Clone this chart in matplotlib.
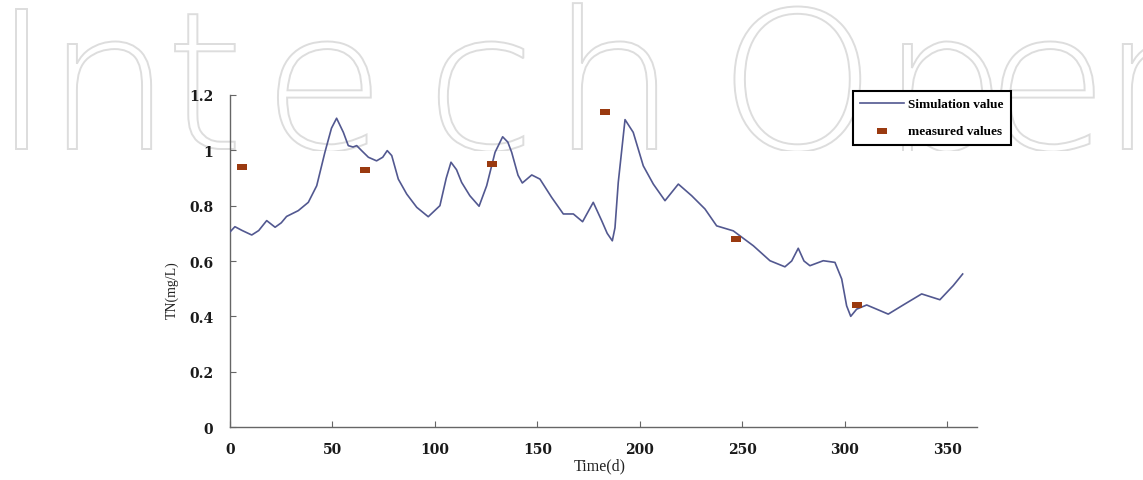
import numpy as np
import matplotlib
matplotlib.use('Agg')
import matplotlib.pyplot as plt
from matplotlib.textpath import TextPath
from matplotlib.font_manager import FontProperties
from matplotlib.patches import PathPatch
from matplotlib.transforms import Affine2D

# simulated TN over the year (day, mg/L)
sim_day = [0, 2.4, 6, 10.6, 14, 17.9, 22, 25, 27.6, 33.3, 38.2, 42.3, 46.3, 49.5, 52,
           55.3, 57.7, 60, 61.8, 64.2, 67.5, 71.5, 74.5, 76.7, 78.9, 82.1, 86.2, 91.1,
           96.7, 102.4, 105.5, 107.8, 110.5, 113, 117, 121.5, 125.2, 129.3, 133, 135.5,
           137.4, 140.5, 142.6, 147.2, 151.2, 156.9, 162.6, 167.5, 172, 177.2, 181.3,
           184, 186.5, 187.8, 189.4, 192.7, 196.7, 201.6, 206.5, 212.2, 218.7, 225.2,
           231.7, 237.4, 245.5, 255.3, 263.4, 270.7, 274, 277.2, 280, 282.9, 289.4,
           295.1, 298.4, 300.8, 302.8, 305.7, 310.6, 315.4, 321.1, 328.4, 337.4,
           346.3, 352.8, 357.4]
sim_tn = [0.705, 0.724, 0.71, 0.694, 0.71, 0.746, 0.722, 0.738, 0.761, 0.782, 0.812,
          0.872, 0.993, 1.08, 1.116, 1.065, 1.017, 1.012, 1.017, 0.999, 0.975, 0.962,
          0.975, 0.999, 0.981, 0.896, 0.842, 0.794, 0.76, 0.80, 0.9, 0.957, 0.93, 0.884,
          0.836, 0.798, 0.872, 0.993, 1.049, 1.03, 0.993, 0.91, 0.882, 0.911, 0.896,
          0.83, 0.77, 0.77, 0.742, 0.812, 0.746, 0.70, 0.673, 0.72, 0.884, 1.111,
          1.065, 0.944, 0.878, 0.818, 0.878, 0.836, 0.788, 0.727, 0.709, 0.655, 0.601,
          0.579, 0.60, 0.646, 0.60, 0.583, 0.601, 0.595, 0.535, 0.438, 0.40, 0.426,
          0.441, 0.426, 0.408, 0.441, 0.481, 0.46, 0.511, 0.553]

# field measurements
meas_day = [6, 66, 128, 183, 247, 306]
meas_tn = [0.94, 0.93, 0.95, 1.14, 0.68, 0.44]

xticks = [0, 50, 100, 150, 200, 250, 300, 350]
yticks = [0, 0.2, 0.4, 0.6, 0.8, 1.0, 1.2]
ytick_labels = ['0', '0.2', '0.4', '0.6', '0.8', '1', '1.2']

W, H = 1143, 481
fig = plt.figure(figsize=(W / 100, H / 100), dpi=100)

# publisher watermark: outlined letters in a strip at the top, pixel units
WM_H = 152
wm = fig.add_axes([0, 1 - WM_H / H, 1, WM_H / H], zorder=0)
wm.set_xlim(0, W)
wm.set_ylim(0, WM_H)
wm.axis('off')
wm_letters = 'IntechOpen'
wm_x = [-8, 45, 165, 262, 425, 550, 718, 880, 985, 1100]
fp = FontProperties(family='DejaVu Sans', weight='light')
for ch, x0 in zip(wm_letters, wm_x):
    tp = TextPath((0, 0), ch, size=192, prop=fp)
    tp = Affine2D().scale(1.05, 1.0).translate(x0, WM_H - 150).transform_path(tp)
    wm.add_patch(PathPatch(tp, facecolor='none', edgecolor='#dddddd', lw=1.4,
                           clip_on=True))

ax = fig.add_axes([230 / W, 1 - 428 / H, (977 - 230) / W, (428 - 96) / H], zorder=2)
ax.patch.set_alpha(0)

ax.plot(sim_day, sim_tn, color='#525890', lw=1.2, label='Simulation value', zorder=3)
rect = [(-1, -0.6), (1, -0.6), (1, 0.6), (-1, 0.6)]
ax.scatter(meas_day, meas_tn, marker=rect, s=45, color='#9a3a10', lw=0,
           label='measured values', zorder=4)

ax.set_xlim(0, 364.4)
ax.set_ylim(0, 1.2)
ax.set_xticks(xticks)
ax.set_yticks(yticks)
ax.set_yticklabels(ytick_labels)
for s in ['top', 'right']:
    ax.spines[s].set_visible(False)
for s in ['left', 'bottom']:
    ax.spines[s].set_color('#666666')
    ax.spines[s].set_linewidth(1.0)
ax.tick_params(axis='y', direction='in', length=4, color='#666666', pad=12)
ax.tick_params(axis='x', direction='in', length=4, color='#666666', pad=11)
for lab in ax.get_xticklabels() + ax.get_yticklabels():
    lab.set_family('DejaVu Serif')
    lab.set_fontweight('bold')
    lab.set_fontsize(10)
    lab.set_color('#1a1a1a')

fig.text(600 / W, 1 - 466 / H, 'Time(d)', ha='center', va='center',
         family='Liberation Serif', fontsize=11.5, color='#222222')
fig.text(172 / W, 1 - 290 / H, 'TN(mg/L)', ha='center', va='center', rotation=90,
         family='Liberation Serif', fontsize=10, color='#222222')

leg = ax.legend(loc='upper left', bbox_to_anchor=(853 / W, 1 - 92 / H),
                bbox_transform=fig.transFigure,
                prop={'family': 'Liberation Serif', 'size': 9.5, 'weight': 'bold'},
                fancybox=False, edgecolor='black', framealpha=1, handlelength=3.3,
                handletextpad=0.3, borderpad=0.55, labelspacing=1.1,
                borderaxespad=0)
leg.get_frame().set_linewidth(1.5)

fig.savefig('out.png', dpi=100)
